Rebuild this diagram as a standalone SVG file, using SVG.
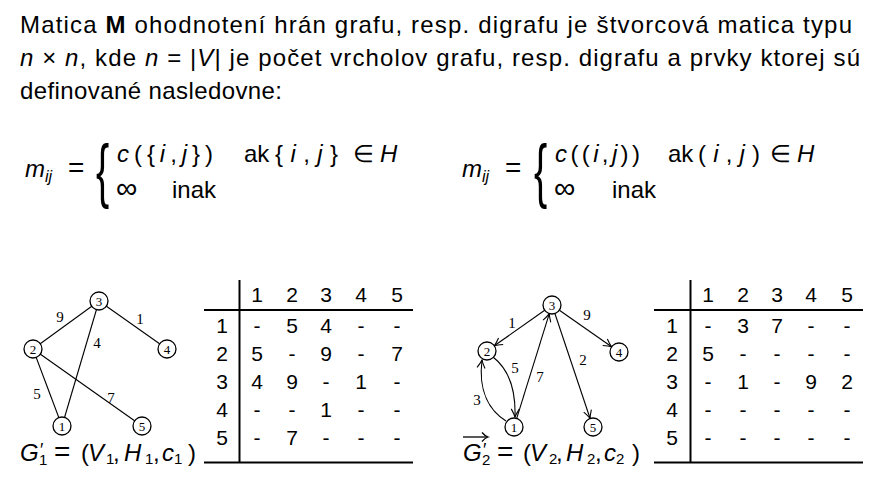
<svg xmlns="http://www.w3.org/2000/svg" width="880" height="477" viewBox="0 0 880 477">
<style>
.t{font-family:"Liberation Sans",Arial,sans-serif;font-size:24px;fill:#000}
.i{font-style:italic}
.sub{font-size:16px}
.s{font-size:15px}
.pr{font-size:18px}
.eq{font-size:28px}
.tb{font-family:"Liberation Sans",Arial,sans-serif;font-size:21px;fill:#000;text-anchor:middle}
.nd circle{fill:#fff;stroke:#000;stroke-width:1.3}
.nd text{font-family:"Liberation Serif","Times New Roman",serif;font-size:13px;text-anchor:middle;fill:#000}
.el{font-family:"Liberation Serif","Times New Roman",serif;font-size:15px;text-anchor:middle;fill:#000}
.e{stroke:#000;stroke-width:1.1;fill:none}
.ea{stroke:#000;stroke-width:1.1;fill:none;marker-end:url(#ah)}
.rule{stroke:#000;stroke-width:2}
</style>
<defs>
<marker id="ah" markerWidth="12" markerHeight="10" refX="0" refY="0" viewBox="-9 -5 12 10" orient="auto" markerUnits="userSpaceOnUse">
<path d="M-8,-4 Q-3,-1 0,0 Q-3,1 -8,4" fill="none" stroke="#000" stroke-width="1.1"/>
</marker>
</defs>

<!-- intro text -->
<g id="intro">
<text class="t" x="20" y="33" textLength="832">Matica <tspan font-weight="bold">M</tspan> ohodnotení hrán grafu, resp. digrafu je štvorcová matica typu</text>
<text class="t" x="20" y="66" textLength="840"><tspan class="i">n</tspan> × <tspan class="i">n</tspan>, kde <tspan class="i">n</tspan> = |<tspan class="i">V</tspan>| je počet vrcholov grafu, resp. digrafu a prvky ktorej sú</text>
<text class="t" x="20" y="99" textLength="262">definované nasledovne:</text>
</g>

<!-- formula 1 -->
<g id="formula1">
<text class="t" y="177"><tspan class="i" x="25">m</tspan><tspan class="i sub" x="45" y="182">ij</tspan><tspan class="eq" x="68" y="177">=</tspan></text>
<text class="t" font-size="30" transform="translate(96,0) scale(1.65,2.95)" x="0" y="65.9">{</text>
<text class="t" x="117" y="162" textLength="96"><tspan class="i">c</tspan>({<tspan class="i">i</tspan>,<tspan class="i">j</tspan>})</text>
<text class="t" x="244" y="162">ak</text>
<text class="t" x="275" y="162" textLength="63">{<tspan class="i">i</tspan>,<tspan class="i">j</tspan>}</text>
<text class="t" font-size="22" x="353" y="162">∈</text>
<text class="t i" x="380" y="162">H</text>
<text class="t" y="198"><tspan x="116" font-size="30">∞</tspan><tspan x="172">inak</tspan></text>
</g>

<!-- formula 2 -->
<g id="formula2">
<text class="t" y="177"><tspan class="i" x="462">m</tspan><tspan class="i sub" x="482" y="182">ij</tspan><tspan class="eq" x="505" y="177">=</tspan></text>
<text class="t" font-size="30" transform="translate(534,0) scale(1.65,2.95)" x="0" y="65.9">{</text>
<text class="t" x="555" y="162" textLength="85"><tspan class="i">c</tspan>((<tspan class="i">i</tspan>,<tspan class="i">j</tspan>))</text>
<text class="t" x="668" y="162">ak</text>
<text class="t" x="698" y="162" textLength="62">(<tspan class="i">i</tspan>,<tspan class="i">j</tspan>)</text>
<text class="t" font-size="22" x="770" y="162">∈</text>
<text class="t i" x="797" y="162">H</text>
<text class="t" y="198"><tspan x="554" font-size="30">∞</tspan><tspan x="612">inak</tspan></text>
</g>

<!-- graph 1 -->
<g id="g1-edges">
<line class="e" x1="99" y1="301" x2="33" y2="349"/>
<line class="e" x1="99" y1="301" x2="167" y2="349"/>
<line class="e" x1="99" y1="301" x2="62" y2="426"/>
<line class="e" x1="33" y1="349" x2="62" y2="426"/>
<line class="e" x1="33" y1="349" x2="142" y2="426"/>
<text class="el" x="60" y="322">9</text>
<text class="el" x="140" y="324">1</text>
<text class="el" x="97" y="348">4</text>
<text class="el" x="37" y="399">5</text>
<text class="el" x="111" y="403">7</text>
</g>
<g id="g1-n1" class="nd"><circle cx="62" cy="426" r="9"/><text x="62" y="430.5">1</text></g>
<g id="g1-n2" class="nd"><circle cx="33" cy="349" r="9"/><text x="33" y="353.5">2</text></g>
<g id="g1-n3" class="nd"><circle cx="99" cy="301" r="9"/><text x="99" y="305.5">3</text></g>
<g id="g1-n4" class="nd"><circle cx="167" cy="349" r="9"/><text x="167" y="353.5">4</text></g>
<g id="g1-n5" class="nd"><circle cx="142" cy="426" r="9"/><text x="142" y="430.5">5</text></g>
<g id="g1-label">
<text class="t" font-size="24" y="461"><tspan class="i" x="20">G</tspan><tspan class="pr" x="40" y="456">′</tspan><tspan class="s" x="39" y="465">1</tspan><tspan class="eq" x="54" y="461">=</tspan><tspan x="81">(</tspan><tspan class="i" x="88">V</tspan><tspan class="s" x="106" y="464">1</tspan><tspan x="113" y="461">,</tspan><tspan class="i" x="124">H</tspan><tspan class="s" x="145" y="464">1</tspan><tspan x="153" y="461">,</tspan><tspan class="i" x="162">c</tspan><tspan class="s" x="174" y="464">1</tspan><tspan x="188" y="461">)</tspan></text>
</g>

<!-- table 1 -->
<g id="table1">
<line class="rule" x1="239.5" y1="280" x2="239.5" y2="463"/>
<line class="rule" x1="204" y1="310" x2="413" y2="310"/>
<line class="rule" x1="204" y1="462.5" x2="413" y2="462.5"/>
<text class="tb" y="302"><tspan x="257">1</tspan><tspan x="292">2</tspan><tspan x="326">3</tspan><tspan x="361">4</tspan><tspan x="397">5</tspan></text>
<text class="tb" y="333"><tspan x="222">1</tspan><tspan x="257">-</tspan><tspan x="292">5</tspan><tspan x="326">4</tspan><tspan x="361">-</tspan><tspan x="397">-</tspan></text>
<text class="tb" y="361"><tspan x="222">2</tspan><tspan x="257">5</tspan><tspan x="292">-</tspan><tspan x="326">9</tspan><tspan x="361">-</tspan><tspan x="397">7</tspan></text>
<text class="tb" y="389"><tspan x="222">3</tspan><tspan x="257">4</tspan><tspan x="292">9</tspan><tspan x="326">-</tspan><tspan x="361">1</tspan><tspan x="397">-</tspan></text>
<text class="tb" y="417"><tspan x="222">4</tspan><tspan x="257">-</tspan><tspan x="292">-</tspan><tspan x="326">1</tspan><tspan x="361">-</tspan><tspan x="397">-</tspan></text>
<text class="tb" y="445"><tspan x="222">5</tspan><tspan x="257">-</tspan><tspan x="292">7</tspan><tspan x="326">-</tspan><tspan x="361">-</tspan><tspan x="397">-</tspan></text>
</g>

<!-- graph 2 -->
<g id="g2-edges">
<line class="ea" x1="544.7" y1="310.2" x2="494.3" y2="345.8"/>
<line class="ea" x1="559.4" y1="310.2" x2="611.6" y2="346.8"/>
<line class="ea" x1="554.9" y1="313.5" x2="590.1" y2="418.5"/>
<line class="ea" x1="516.7" y1="418.4" x2="549.3" y2="313.6"/>
<path class="ea" d="M493,357 C506,367 516,385 515,417"/>
<path class="ea" d="M506,421 C490,411 478,392 482,360"/>
<text class="el" x="512" y="328">1</text>
<text class="el" x="587" y="320">9</text>
<text class="el" x="515" y="373">5</text>
<text class="el" x="540" y="382">7</text>
<text class="el" x="583" y="365">2</text>
<text class="el" x="477" y="405">3</text>
</g>
<g id="g2-n1" class="nd"><circle cx="514" cy="427" r="9"/><text x="514" y="431.5">1</text></g>
<g id="g2-n2" class="nd"><circle cx="487" cy="351" r="9"/><text x="487" y="355.5">2</text></g>
<g id="g2-n3" class="nd"><circle cx="552" cy="305" r="9"/><text x="552" y="309.5">3</text></g>
<g id="g2-n4" class="nd"><circle cx="619" cy="352" r="9"/><text x="619" y="356.5">4</text></g>
<g id="g2-n5" class="nd"><circle cx="593" cy="427" r="9"/><text x="593" y="431.5">5</text></g>
<g id="g2-label">
<line x1="463" y1="437" x2="487" y2="437" stroke="#000" stroke-width="1.3"/>
<path d="M482,432.5 Q485,436 488,437 Q485,438 482,441.5" fill="none" stroke="#000" stroke-width="1.3"/>
<text class="t" font-size="24" y="461"><tspan class="i" x="463">G</tspan><tspan class="pr" x="483" y="456">′</tspan><tspan class="s" x="482" y="465">2</tspan><tspan class="eq" x="497" y="461">=</tspan><tspan x="523">(</tspan><tspan class="i" x="530">V</tspan><tspan class="s" x="549" y="464">2</tspan><tspan x="556" y="461">,</tspan><tspan class="i" x="566">H</tspan><tspan class="s" x="587" y="464">2</tspan><tspan x="595" y="461">,</tspan><tspan class="i" x="604">c</tspan><tspan class="s" x="616" y="464">2</tspan><tspan x="632" y="461">)</tspan></text>
</g>

<!-- table 2 -->
<g id="table2">
<line class="rule" x1="690.5" y1="280" x2="690.5" y2="463"/>
<line class="rule" x1="654" y1="310" x2="863" y2="310"/>
<line class="rule" x1="654" y1="462.5" x2="863" y2="462.5"/>
<text class="tb" y="302"><tspan x="708">1</tspan><tspan x="743">2</tspan><tspan x="777">3</tspan><tspan x="811">4</tspan><tspan x="847">5</tspan></text>
<text class="tb" y="333"><tspan x="672">1</tspan><tspan x="708">-</tspan><tspan x="743">3</tspan><tspan x="777">7</tspan><tspan x="811">-</tspan><tspan x="847">-</tspan></text>
<text class="tb" y="361"><tspan x="672">2</tspan><tspan x="708">5</tspan><tspan x="743">-</tspan><tspan x="777">-</tspan><tspan x="811">-</tspan><tspan x="847">-</tspan></text>
<text class="tb" y="389"><tspan x="672">3</tspan><tspan x="708">-</tspan><tspan x="743">1</tspan><tspan x="777">-</tspan><tspan x="811">9</tspan><tspan x="847">2</tspan></text>
<text class="tb" y="417"><tspan x="672">4</tspan><tspan x="708">-</tspan><tspan x="743">-</tspan><tspan x="777">-</tspan><tspan x="811">-</tspan><tspan x="847">-</tspan></text>
<text class="tb" y="445"><tspan x="672">5</tspan><tspan x="708">-</tspan><tspan x="743">-</tspan><tspan x="777">-</tspan><tspan x="811">-</tspan><tspan x="847">-</tspan></text>
</g>
</svg>
